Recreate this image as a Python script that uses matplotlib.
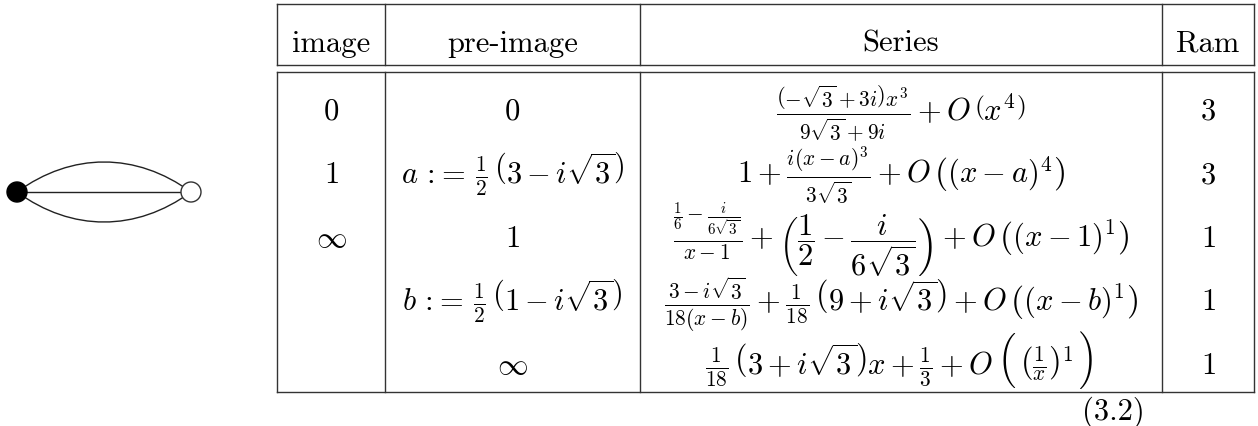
import matplotlib
matplotlib.use("Agg")
import matplotlib.pyplot as plt
from matplotlib.path import Path
from matplotlib.patches import PathPatch, Circle
from matplotlib import font_manager, ft2font

plt.rcParams['mathtext.fontset'] = 'cm'

# table content
headers = ['image', 'pre-image', 'Series', 'Ram']
images = [r'$0$', r'$1$', r'$\infty$', '', '']
preimages = [r'$0$',
             r'$a\,:\!=\,\frac{1}{2}\,\left(3-i\sqrt{3}\right)$',
             r'$1$',
             r'$b\,:\!=\,\frac{1}{2}\,\left(1-i\sqrt{3}\right)$',
             r'$\infty$']
# each series cell is a list of pieces; '(' / ')' pieces are big delimiters
series = [[r'$\frac{\left(-\sqrt{3}+3i\right)x^3}{9\sqrt{3}+9i}+O\,\left(x^4\right)$'],
          [r'$1+\frac{i(x-a)^3}{3\sqrt{3}}+O\,\left((x-a)^4\right)$'],
          [r'$\frac{\frac{1}{6}-\frac{i}{6\sqrt{3}}}{x-1}+\left(\dfrac{1}{2}-\dfrac{i}{6\sqrt{3}}\right)+O\,\left((x-1)^1\right)$'],
          [r'$\frac{3-i\sqrt{3}}{18(x-b)}+\frac{1}{18}\,\left(9+i\sqrt{3}\right)+O\,\left((x-b)^1\right)$'],
          [r'$\frac{1}{18}\,\left(3+i\sqrt{3}\right)x+\frac{1}{3}+O$', '(',
           r'$\left(\frac{1}{x}\right)^1$', ')']]
ram = [3, 3, 1, 1, 1]
eq_label = '(3.2)'

# layout in pixels
W, H = 1258, 427
col_edges = [277, 385, 640, 1162, 1254]
top, head_bot, body_top, bottom = 5, 66, 73, 393
head_base = 52
row_base0, row_step = 120, 63.5
fs = 22
em = fs * 100 / 72
lc = '#333333'

fig = plt.figure(figsize=(W / 100, H / 100), dpi=100)
ax = fig.add_axes([0, 0, 1, 1])
ax.set_xlim(0, W)
ax.set_ylim(H, 0)
ax.axis('off')
rend = fig.canvas.get_renderer()

# \Big delimiters from cmex10, centred on the math axis
big = {'(': '\xb3', ')': '\xb4'}
cmex = ft2font.FT2Font(font_manager.findfont('cmex10'))
cmex.set_size(fs, 100)
big_off = {}
for k, ch in big.items():
    g = cmex.load_char(ord(ch))
    y0, y1 = g.bbox[1] / 64, g.bbox[3] / 64
    big_off[k] = (y0 + y1) / 2 - 0.25 * em - 6

# table lines
for y in [top, head_bot, body_top, bottom]:
    ax.plot([col_edges[0], col_edges[-1]], [y, y], color=lc, lw=1.0)
for x in col_edges:
    ax.plot([x, x], [top, head_bot], color=lc, lw=1.0)
    ax.plot([x, x], [body_top, bottom], color=lc, lw=1.0)

centers = [(col_edges[i] + col_edges[i + 1]) / 2 for i in range(4)]
for c, h in zip(centers, headers):
    ax.text(c, head_base, h, family='cmr10', fontsize=fs, ha='center', va='baseline')


def place(xc, yb, pieces):
    objs = []
    total = 0
    for s in pieces:
        if s in big:
            t = ax.text(0, yb + big_off[s], big[s], family='cmex10', fontsize=fs,
                        ha='left', va='baseline')
            gap = 4 if s == '(' else 0
        else:
            t = ax.text(0, yb, s, fontsize=fs, ha='left', va='baseline')
            gap = 5
        w = t.get_window_extent(rend).width
        objs.append((t, w, gap))
        total += w + gap
    total -= objs[-1][2]
    x = xc - total / 2
    for t, w, gap in objs:
        t.set_x(x)
        x += w + gap


for i in range(5):
    yb = row_base0 + i * row_step
    if images[i]:
        ax.text(centers[0], yb, images[i], fontsize=fs, ha='center', va='baseline')
    ax.text(centers[1], yb, preimages[i], fontsize=fs, ha='center', va='baseline')
    place(centers[2], yb, series[i])
    ax.text(centers[3], yb, r'$%d$' % ram[i], fontsize=fs, ha='center', va='baseline')

ax.text(1113, 420, eq_label, family='cmr10', fontsize=fs, ha='center', va='baseline')

# dessin: black vertex, white vertex, three edges
bx, wx, vy, r = 17, 191, 193, 10
ax.plot([bx, wx], [vy, vy], color='#222222', lw=1.0, zorder=1)
for dy in (-40, 40):
    p = Path([(bx, vy), (bx + 55, vy + dy), (wx - 55, vy + dy), (wx, vy)],
             [Path.MOVETO, Path.CURVE4, Path.CURVE4, Path.CURVE4])
    ax.add_patch(PathPatch(p, fc='none', ec='#222222', lw=1.0, zorder=1))
ax.add_patch(Circle((bx, vy), r, fc='black', ec='black', lw=1, zorder=2))
ax.add_patch(Circle((wx, vy), r, fc='white', ec='#333333', lw=1, zorder=2))

fig.savefig('out.png', dpi=100)
